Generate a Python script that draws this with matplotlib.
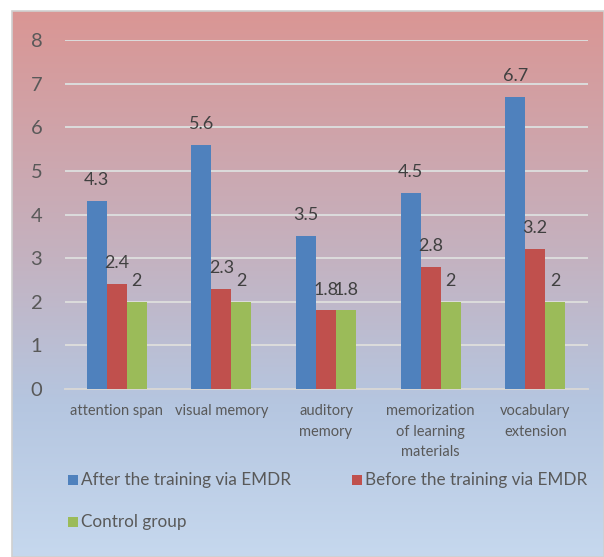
import numpy as np
import matplotlib
matplotlib.use("Agg")
import matplotlib.pyplot as plt
from matplotlib.colors import LinearSegmentedColormap
from matplotlib.patches import Rectangle

categories = ["attention span", "visual memory", "auditory\nmemory",
              "memorization\nof learning\nmaterials", "vocabulary\nextension"]
series_names = ["After the training via EMDR", "Before the training via EMDR", "Control group"]
after_vals = [4.3, 5.6, 3.5, 4.5, 6.7]
before_vals = [2.4, 2.3, 1.8, 2.8, 3.2]
control_vals = [2, 2, 1.8, 2, 2]
value_labels = [["4.3", "5.6", "3.5", "4.5", "6.7"],
                ["2.4", "2.3", "1.8", "2.8", "3.2"],
                ["2", "2", "1.8", "2", "2"]]
yticks = [0, 1, 2, 3, 4, 5, 6, 7, 8]

colors = ["#4f81bd", "#c0504d", "#9bbb59"]
text_color = "#595959"
plt.rcParams['font.family'] = ['Lato', 'DejaVu Sans']

W, H = 604, 557
fig = plt.figure(figsize=(W / 100, H / 100), dpi=100)
fig.patch.set_facecolor("white")

# background gradient chart area
bg = fig.add_axes([12 / W, 0, (W - 12) / W, (H - 11) / H])
cmap = LinearSegmentedColormap.from_list(
    "bg", [(0.0, (218/255, 150/255, 148/255)),
           (0.45, (196/255, 178/255, 192/255)),
           (0.72, (181/255, 198/255, 224/255)),
           (1.0, (198/255, 216/255, 238/255))])
grad = np.linspace(0, 1, 256).reshape(-1, 1)
bg.imshow(grad, aspect="auto", cmap=cmap, extent=[0, 1, 0, 1], origin="upper")
bg.set_xlim(0, 1)
bg.set_ylim(0, 1)
bg.axis("off")
fig.add_artist(Rectangle((11.5 / W, 0), (W - 11.5) / W, (H - 11) / H,
                         transform=fig.transFigure, fill=False,
                         edgecolor="#d0d0d0", lw=1.2, zorder=5))

# main axes: left 64.5, right 587.5, top 40 (y=8), bottom 389 (y=0)
left, right, top, bottom = 64.5, 587.5, 40, 389
ax = fig.add_axes([left / W, 1 - bottom / H, (right - left) / W, (bottom - top) / H])
ax.set_facecolor("none")

x = np.arange(len(categories))
bw = 20 / 104.6
data = [after_vals, before_vals, control_vals]
for i, (vals, c, name) in enumerate(zip(data, colors, series_names)):
    xs = x + (i - 1) * bw
    ax.bar(xs, vals, width=bw, color=c, label=name, zorder=3,
           edgecolor=c, linewidth=0)
    for xi, v, lab in zip(xs, vals, value_labels[i]):
        ax.annotate(lab, (xi, v), xytext=(0, 11.5), textcoords="offset points",
                    ha="center", va="baseline", fontsize=13, color="#404040",
                    zorder=4)

ax.set_xlim(-0.5, len(categories) - 0.5)
ax.set_ylim(0, 8)
ax.set_yticks(yticks)
ax.set_yticklabels([str(t) for t in yticks], fontsize=14.5, color=text_color)
ax.yaxis.grid(True, color="#dcdcdc", lw=1.4, zorder=1)
ax.set_axisbelow(True)
for s in ["top", "right", "left"]:
    ax.spines[s].set_visible(False)
ax.spines["bottom"].set_color("#d6d6d6")
ax.spines["bottom"].set_linewidth(1.4)
ax.tick_params(axis="y", length=0, pad=16)
ax.tick_params(axis="x", length=0, pad=11)
ax.set_xticks(x)
ax.set_xticklabels(categories, fontsize=10.5, color=text_color, linespacing=1.6,
                   va="top")

# legend (manual placement)
leg_items = [(73, 480, 0), (357, 480, 1), (73, 522, 2)]
for px, py, i in leg_items:
    fig.add_artist(Rectangle(((px - 5) / W, 1 - (py + 5) / H), 10 / W, 10 / H,
                             transform=fig.transFigure, facecolor=colors[i],
                             edgecolor="none"))
    fig.text((px + 8) / W, 1 - py / H, series_names[i], fontsize=12.3,
             color=text_color, va="center", ha="left")

fig.savefig("out.png", dpi=100)
